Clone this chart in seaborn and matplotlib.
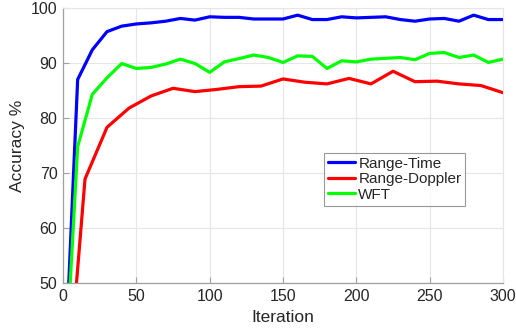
import numpy as np
import pandas as pd
import matplotlib
matplotlib.use("Agg")
import matplotlib.pyplot as plt
import seaborn as sns

# Data
x_rt = list(range(0, 301, 10))
range_time = [26.0, 87.0, 92.4, 95.7, 96.7, 97.1, 97.3, 97.6, 98.1, 97.8,
              98.4, 98.3, 98.3, 98.0, 98.0, 98.0, 98.7, 97.9, 97.9, 98.4,
              98.2, 98.3, 98.4, 97.9, 97.6, 98.0, 98.1, 97.6, 98.7, 97.9, 97.9]

x_rd = list(range(0, 301, 15))
range_doppler = [20.0, 68.9, 78.3, 81.8, 84.0, 85.4, 84.8, 85.2, 85.7, 85.8,
                 87.1, 86.5, 86.2, 87.2, 86.2, 88.5, 86.6, 86.7, 86.2, 85.9, 84.6]

x_wft = list(range(0, 301, 10))
wft = [26.0, 74.8, 84.3, 87.3, 89.9, 89.0, 89.2, 89.8, 90.7, 89.9,
       88.3, 90.2, 90.8, 91.45, 91.0, 90.1, 91.3, 91.2, 89.0, 90.4,
       90.2, 90.7, 90.85, 91.0, 90.6, 91.75, 91.9, 91.0, 91.45, 90.1, 90.7]

series_names = ["Range-Time", "Range-Doppler", "WFT"]
colors = ["#0000ff", "#ff0000", "#00ff00"]
x_ticks = [0, 50, 100, 150, 200, 250, 300]
y_ticks = [50, 60, 70, 80, 90, 100]

df = pd.concat([
    pd.DataFrame({"Iteration": x_rt, "Accuracy": range_time, "Method": series_names[0]}),
    pd.DataFrame({"Iteration": x_rd, "Accuracy": range_doppler, "Method": series_names[1]}),
    pd.DataFrame({"Iteration": x_wft, "Accuracy": wft, "Method": series_names[2]}),
], ignore_index=True)

sns.set_style("white")
plt.rcParams["font.family"] = ["Liberation Sans", "DejaVu Sans"]

fig = plt.figure(figsize=(5.16, 3.33), dpi=100)
ax = fig.add_axes([63 / 516, 1 - 283 / 333, 440 / 516, 275 / 333])

sns.lineplot(data=df, x="Iteration", y="Accuracy", hue="Method",
             hue_order=series_names, palette=dict(zip(series_names, colors)),
             linewidth=2.3, ax=ax, estimator=None, sort=False)

ax.set_xlim(0, 300)
ax.set_ylim(50, 100)
ax.set_xticks(x_ticks)
ax.set_yticks(y_ticks)
ax.grid(True, color="#e6e6e6", linewidth=0.8)
ax.set_axisbelow(True)
for s in ["left", "bottom"]:
    ax.spines[s].set_color("#a0a0a0")
    ax.spines[s].set_linewidth(0.9)
for s in ["top", "right"]:
    ax.spines[s].set_color("#e6e6e6")
    ax.spines[s].set_linewidth(0.8)
ax.tick_params(direction="in", length=4, width=0.8, color="#a0a0a0",
               labelsize=11.5, labelcolor="#262626", pad=4, top=False, right=False,
               left=True, bottom=True)
ax.set_xlabel("Iteration", fontsize=12.5, color="#262626", labelpad=5)
ax.set_ylabel("Accuracy %", fontsize=12.5, color="#262626", labelpad=4)

leg = ax.legend(loc="upper left", bbox_to_anchor=(0.593, 0.473), fontsize=11,
                frameon=True, fancybox=False, borderpad=0.25, labelspacing=0.1,
                handlelength=1.8, handletextpad=0.2, borderaxespad=0)
leg.get_frame().set_edgecolor("#808080")
leg.get_frame().set_linewidth(0.8)
for line in leg.get_lines():
    line.set_linewidth(2.3)

fig.savefig("out.png", dpi=100)
